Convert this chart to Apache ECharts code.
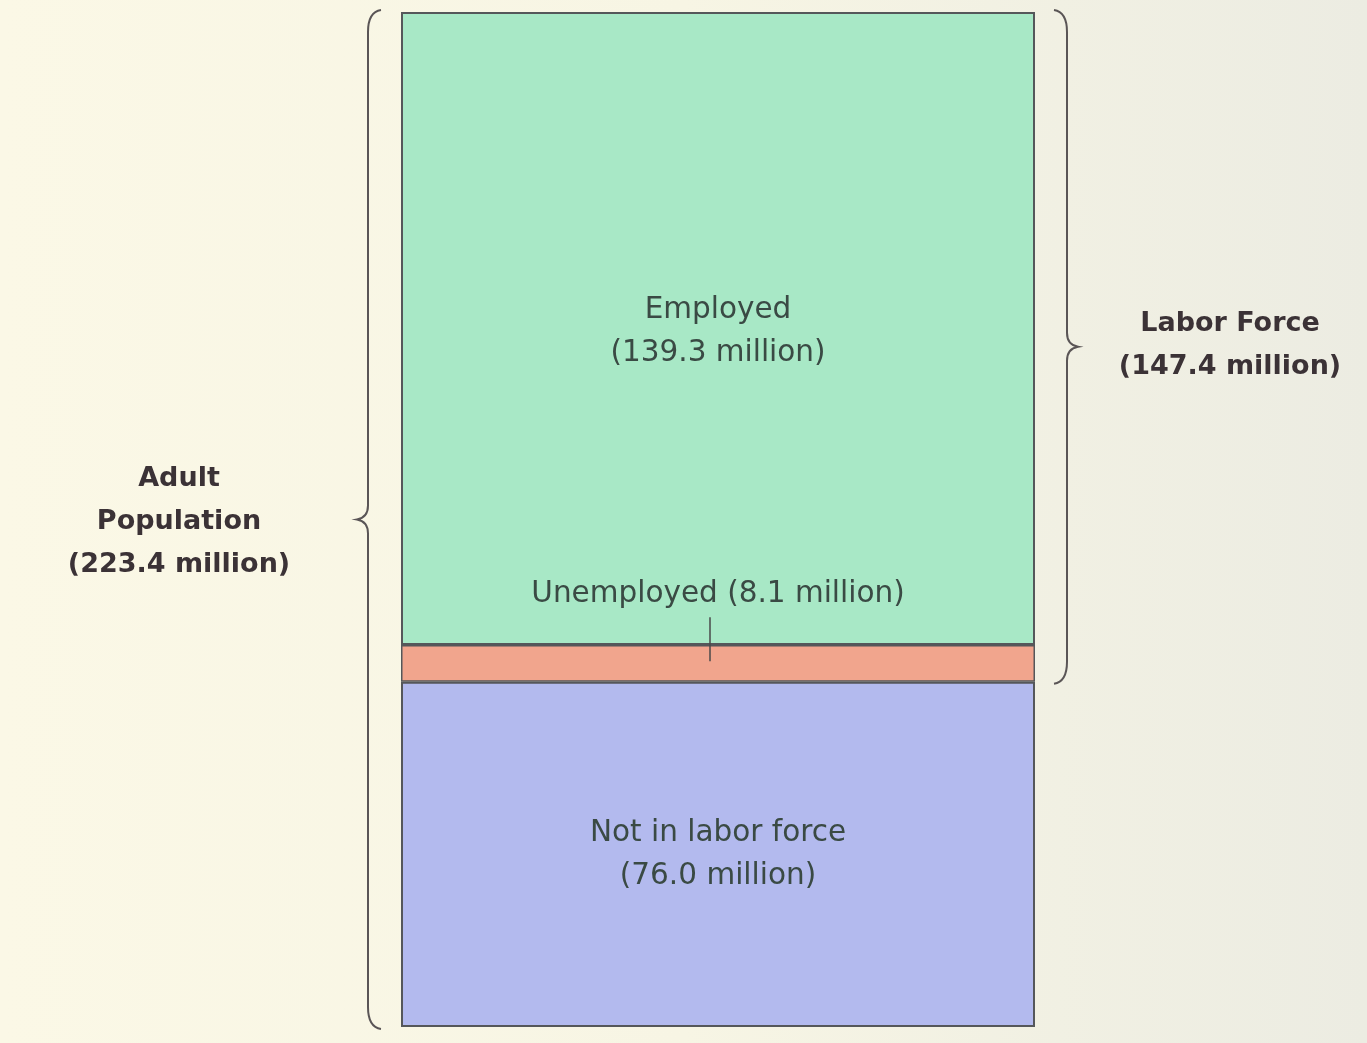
<!DOCTYPE html>
<html>
<head>
<meta charset="utf-8">
<script src="https://cdn.jsdelivr.net/npm/echarts@6/dist/echarts.min.js"></script>
<style>
html,body{margin:0;padding:0;background:#f6f4e4;}
#chart{width:1367px;height:1043px;}
</style>
</head>
<body>
<div id="chart"></div>
<script>
// ---- data ----
const categories = ['Adult population'];
const notInLaborForce = [76.0];
const unemployed = [8.1];
const employed = [139.3];
const segmentLabels = ['Not in labor force\n(76.0 million)', 'Unemployed (8.1 million)', 'Employed\n(139.3 million)'];
// braces: [category index, start value, end value]
const braceRanges = [[0, 0, 223.4], [0, 76.0, 223.4]];
const braceSides = ['left', 'right'];
const braceLabels = ['Adult\nPopulation\n(223.4 million)', 'Labor Force\n(147.4 million)'];

const chart = echarts.init(document.getElementById('chart'));
const FONT = '"DejaVu Sans", "Liberation Sans", sans-serif';
const inner = '#3a4a44';
const outer = '#3b3236';
const border = '#55575a';

function renderBrace(params, api) {
  const idx = params.dataIndex;
  const p0 = api.coord([api.value(0), api.value(1)]);
  const p1 = api.coord([api.value(0), api.value(2)]);
  const band = api.size([1, 0])[0];
  const yBot = p0[1] + 2, yTop = p1[1] - 2;
  const ym = (yTop + yBot) / 2;
  const side = braceSides[idx];
  const children = [];
  let d, tx;
  if (side === 'left') {
    const x = p0[0] - band / 2 - 33;
    d = `M${x+13},${yTop} Q${x},${yTop+2} ${x},${yTop+22} L${x},${ym-14} Q${x},${ym-2} ${x-11},${ym} Q${x},${ym+2} ${x},${ym+14} L${x},${yBot-22} Q${x},${yBot-2} ${x+13},${yBot}`;
    tx = x - 189;
  } else {
    const x = p0[0] + band / 2 + 32;
    d = `M${x-13},${yTop} Q${x},${yTop+2} ${x},${yTop+22} L${x},${ym-14} Q${x},${ym-2} ${x+11},${ym} Q${x},${ym+2} ${x},${ym+14} L${x},${yBot-22} Q${x},${yBot-2} ${x-13},${yBot}`;
    tx = x + 163;
  }
  children.push({
    type: 'path',
    shape: { pathData: d },
    style: { fill: null, stroke: '#5a5556', lineWidth: 2 }
  });
  children.push({
    type: 'text',
    style: {
      text: braceLabels[idx], x: tx, y: ym + (side === 'left' ? 2 : -1),
      align: 'center', verticalAlign: 'middle',
      fontFamily: FONT, fontSize: 27, fontWeight: 'bold', lineHeight: 43, fill: outer
    }
  });
  return { type: 'group', children };
}

function renderTick(params, api) {
  const p = api.coord([api.value(0), api.value(1)]);
  return {
    type: 'line',
    shape: { x1: p[0] - 8, y1: p[1] - 2, x2: p[0] - 8, y2: p[1] - 46 },
    style: { stroke: '#4a4a4a', lineWidth: 1.5 }
  };
}

chart.setOption({
  backgroundColor: {
    type: 'linear', x: 0, y: 0, x2: 1, y2: 0,
    colorStops: [{ offset: 0, color: '#fbf8e6' }, { offset: 0.5, color: '#f7f5e4' }, { offset: 1, color: '#ececE2' }]
  },
  animation: false,
  grid: { left: 401, right: 332, top: 12, bottom: 16 },
  xAxis: { type: 'category', data: categories, show: false },
  yAxis: { type: 'value', min: 0, max: 223.4, show: false },
  series: [
    {
      type: 'bar', stack: 'pop', barWidth: '100%', data: notInLaborForce,
      itemStyle: { color: '#b3baee', borderColor: border, borderWidth: 2 },
      label: { show: true, position: 'inside', formatter: segmentLabels[0], fontFamily: FONT, fontSize: 29.5, lineHeight: 43, color: inner }
    },
    {
      type: 'bar', stack: 'pop', barWidth: '100%', data: unemployed,
      itemStyle: { color: '#f1a58d', borderColor: border, borderWidth: 1.5 },
      label: { show: true, position: 'top', distance: 36, formatter: segmentLabels[1], fontFamily: FONT, fontSize: 29.5, color: inner }
    },
    {
      type: 'bar', stack: 'pop', barWidth: '100%', data: employed,
      itemStyle: { color: '#a8e8c6', borderColor: border, borderWidth: 2 },
      label: { show: true, position: 'inside', formatter: segmentLabels[2], fontFamily: FONT, fontSize: 29.5, lineHeight: 43, color: inner, offset: [0, 3] }
    },
    {
      type: 'custom', z: 5, renderItem: renderBrace, data: braceRanges,
      encode: { x: 0, y: [1, 2] }, silent: true
    },
    {
      type: 'custom', z: 6, renderItem: renderTick,
      data: [[0, notInLaborForce[0] + unemployed[0] / 2]],
      encode: { x: 0, y: 1 }, silent: true
    }
  ]
});
</script>
</body>
</html>
